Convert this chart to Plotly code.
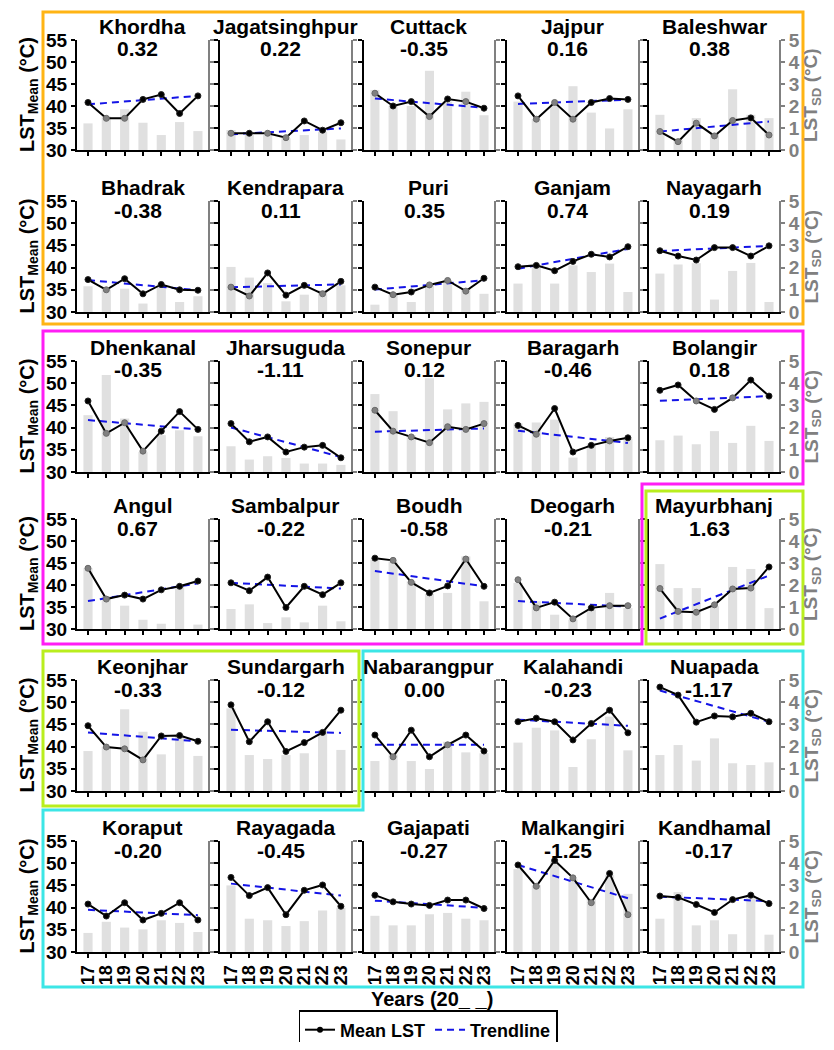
import numpy as np
import plotly.graph_objects as go

# ---------------- data ----------------
years = [17, 18, 19, 20, 21, 22, 23]
year_labels = ["17", "18", "19", "20", "21", "22", "23"]

districts = [
    "Khordha", "Jagatsinghpur", "Cuttack", "Jajpur", "Baleshwar",
    "Bhadrak", "Kendrapara", "Puri", "Ganjam", "Nayagarh",
    "Dhenkanal", "Jharsuguda", "Sonepur", "Baragarh", "Bolangir",
    "Angul", "Sambalpur", "Boudh", "Deogarh", "Mayurbhanj",
    "Keonjhar", "Sundargarh", "Nabarangpur", "Kalahandi", "Nuapada",
    "Koraput", "Rayagada", "Gajapati", "Malkangiri", "Kandhamal",
]

slopes = [
    "0.32", "0.22", "-0.35", "0.16", "0.38",
    "-0.38", "0.11", "0.35", "0.74", "0.19",
    "-0.35", "-1.11", "0.12", "-0.46", "0.18",
    "0.67", "-0.22", "-0.58", "-0.21", "1.63",
    "-0.33", "-0.12", "0.00", "-0.23", "-1.17",
    "-0.20", "-0.45", "-0.27", "-1.25", "-0.17",
]

mean_lst = [
    [40.8, 37.2, 37.2, 41.5, 42.6, 38.3, 42.3],
    [33.8, 33.8, 33.8, 32.8, 36.6, 34.5, 36.2],
    [42.9, 40.0, 41.0, 37.6, 41.6, 41.0, 39.5],
    [42.3, 37.0, 40.8, 37.0, 40.8, 41.7, 41.5],
    [34.2, 31.9, 36.1, 33.2, 36.7, 37.3, 33.4],
    [37.3, 35.0, 37.5, 34.1, 36.2, 35.0, 34.9],
    [35.6, 33.6, 38.8, 33.8, 36.0, 34.1, 36.9],
    [35.6, 33.9, 34.5, 36.1, 37.1, 34.7, 37.6],
    [40.2, 40.5, 39.3, 41.4, 43.0, 42.4, 44.7],
    [43.8, 42.6, 41.7, 44.5, 44.5, 42.6, 44.9],
    [46.0, 38.7, 41.1, 34.7, 39.2, 43.6, 39.6],
    [40.9, 36.8, 37.9, 34.5, 35.6, 36.0, 33.2],
    [43.9, 39.2, 37.9, 36.6, 40.2, 39.6, 40.9],
    [40.5, 38.5, 44.3, 34.5, 36.0, 37.0, 37.7],
    [48.4, 49.6, 46.0, 44.1, 46.7, 50.7, 47.1],
    [43.8, 36.8, 37.7, 36.8, 38.9, 39.7, 40.9],
    [40.5, 38.7, 41.8, 34.9, 39.7, 37.8, 40.5],
    [46.1, 45.6, 40.6, 38.2, 39.8, 45.9, 39.7],
    [41.2, 34.8, 36.1, 32.3, 34.8, 35.3, 35.3],
    [39.2, 34.0, 33.8, 35.5, 39.1, 39.3, 44.1],
    [44.7, 39.9, 39.5, 37.0, 42.4, 42.5, 41.2],
    [49.4, 41.1, 45.6, 38.9, 40.9, 43.2, 48.2],
    [42.6, 37.7, 43.7, 37.7, 40.4, 42.6, 39.0],
    [45.6, 46.4, 45.6, 41.5, 45.2, 48.2, 43.1],
    [53.4, 51.6, 45.5, 46.9, 46.7, 47.5, 45.6],
    [40.8, 38.1, 41.1, 37.2, 38.7, 41.1, 37.2],
    [46.8, 42.7, 44.5, 38.4, 43.9, 45.1, 40.3],
    [42.8, 41.3, 40.8, 40.5, 41.7, 41.7, 39.8],
    [49.6, 44.8, 50.6, 46.7, 41.1, 47.7, 38.4],
    [42.6, 42.3, 40.7, 38.9, 41.8, 42.8, 40.9],
]

sd_lst = [
    [1.21, 1.52, 1.85, 1.24, 0.68, 1.27, 0.86],
    [0.91, 0.68, 0.68, 0.53, 0.68, 0.83, 0.48],
    [2.73, 2.00, 2.00, 3.60, 2.20, 2.65, 1.58],
    [2.20, 1.40, 2.10, 2.90, 1.70, 0.98, 1.85],
    [1.60, 0.45, 1.45, 0.76, 2.76, 1.60, 1.45],
    [1.16, 1.01, 1.05, 0.38, 1.13, 0.45, 0.71],
    [2.03, 1.55, 1.30, 0.48, 0.78, 0.98, 1.20],
    [0.33, 0.79, 0.45, 1.20, 1.44, 1.06, 0.82],
    [1.28, 2.03, 1.28, 2.10, 1.80, 2.18, 0.90],
    [1.73, 2.14, 2.20, 0.56, 1.85, 2.21, 0.45],
    [2.56, 4.37, 2.41, 0.90, 1.66, 1.88, 1.61],
    [1.16, 0.56, 0.71, 0.63, 0.38, 0.38, 0.32],
    [3.51, 2.74, 1.66, 4.22, 2.82, 3.09, 3.16],
    [2.20, 2.23, 2.36, 0.65, 1.28, 1.58, 1.50],
    [1.43, 1.64, 1.25, 1.84, 1.31, 2.08, 1.40],
    [2.76, 1.50, 1.06, 0.42, 0.24, 1.94, 0.20],
    [0.91, 1.12, 0.27, 0.53, 0.30, 1.06, 0.35],
    [3.15, 3.07, 2.17, 1.60, 1.64, 3.30, 1.26],
    [2.10, 1.26, 0.65, 0.42, 0.88, 1.64, 0.95],
    [2.95, 1.86, 1.86, 1.03, 2.82, 2.73, 0.95],
    [1.80, 2.00, 3.68, 2.67, 1.65, 2.52, 1.58],
    [3.72, 1.62, 1.44, 1.62, 1.70, 2.75, 1.85],
    [1.35, 1.65, 1.35, 0.99, 2.22, 1.74, 1.70],
    [2.18, 2.85, 2.73, 1.08, 2.33, 3.35, 1.83],
    [1.62, 2.07, 1.37, 2.37, 1.25, 1.17, 1.29],
    [0.86, 1.36, 1.10, 1.02, 1.43, 1.31, 0.90],
    [3.00, 1.50, 1.43, 1.17, 1.39, 1.87, 2.00],
    [1.63, 1.20, 1.20, 1.70, 1.76, 1.50, 1.43],
    [3.73, 3.01, 4.07, 3.30, 2.40, 3.46, 2.62],
    [1.50, 2.70, 1.20, 1.43, 0.80, 2.56, 0.78],
]

# point category per year (k = dark point, g = grey point)
point_class = [
    "kggkkkk", "gkggkkk", "gkkgkgk", "kgggkkk", "gggggkg",
    "kgkkkkk", "ggkkkgk", "kgkgggk", "kkkkkkk", "kkkkkkk",
    "kgggkkk", "kkkkkkk", "ggggggg", "kgkkkgk", "kkgkgkk",
    "ggkkkkk", "kkkkkkk", "kggkkgk", "ggkgkgg", "ggggggk",
    "kgggkkk", "kkkkkkk", "kgkkgkk", "kkkkkkk", "kkkkkkk",
    "kkkkkkk", "kkkkkkk", "kkkkkkk", "kgkggkg", "kkkkkkk",
]

# ---------------- layout helpers ----------------
# The page body has an 8px margin, so the figure is sized to fit the
# 834x1050 window exactly and every position is given in window pixels.
PAGE_W, PAGE_H = 834, 1050
BODY = 8
W, H = PAGE_W - 2 * BODY, PAGE_H - 2 * BODY
FONT = "Liberation Sans, Arial, Helvetica, sans-serif"
BAR = "#e0e0e0"
GREY = "#808080"
TONE = {"k": "#000000", "g": "#808080"}
TONE_EDGE = {"k": "#222222", "g": "#6a6a6a"}

col_px = [(77, 208), (220, 351), (364, 494), (507, 638), (649, 779)]
row_px = [(40, 150), (201, 312), (361, 472), (519, 629), (680, 791), (841, 952)]


def fx(p):
    return (p - BODY) / W


def fy(p):
    return 1 - (p - BODY) / H


fig = go.Figure()
layout_axes = {}
annotations = []

for k, name in enumerate(districts):
    r, c = divmod(k, 5)
    n = k + 1
    xa = "x" if n == 1 else f"x{n}"
    yb = "y" if n == 1 else f"y{n}"
    yo = f"y{30 + n}"
    x0, x1 = col_px[c]
    y0, y1 = row_px[r]

    # SD bars (base axis, right side)
    fig.add_trace(go.Bar(
        x=years, y=sd_lst[k], xaxis=xa, yaxis=yb, width=0.5,
        marker=dict(color=BAR, line=dict(width=0)),
        showlegend=False, hoverinfo="skip",
    ))

    # Trend line: label slope with median intercept (Sen-style)
    s = float(slopes[k])
    yarr = np.array(mean_lst[k], dtype=float)
    xarr = np.array(years, dtype=float)
    b0 = float(np.median(yarr - s * (xarr - xarr[0])))
    tx = [years[0], years[-1]]
    ty = [b0, b0 + s * (years[-1] - years[0])]
    fig.add_trace(go.Scatter(
        x=tx, y=ty, xaxis=xa, yaxis=yo, mode="lines",
        line=dict(color="#1414e6", width=2, dash="7px,5px"),
        showlegend=False, hoverinfo="skip",
    ))

    # Mean LST line
    pc = point_class[k]
    fig.add_trace(go.Scatter(
        x=years, y=mean_lst[k], xaxis=xa, yaxis=yo, mode="lines+markers",
        line=dict(color="black", width=2),
        marker=dict(size=6, color=[TONE[t] for t in pc],
                    line=dict(width=1, color=[TONE_EDGE[t] for t in pc])),
        showlegend=False,
    ))

    xkey = "xaxis" if n == 1 else f"xaxis{n}"
    ykey = "yaxis" if n == 1 else f"yaxis{n}"
    layout_axes[xkey] = dict(
        domain=[fx(x0), fx(x1)], anchor=yb, range=[16.4, 23.55],
        tickvals=years, ticktext=year_labels, showticklabels=(r == 5),
        tickangle=-90, ticks="outside", ticklen=4, tickwidth=1.5,
        tickcolor="black", showline=True, linecolor="black", linewidth=2,
        showgrid=False, zeroline=False, fixedrange=True,
        tickfont=dict(family=FONT, size=18, color="black", weight="bold"),
    )
    layout_axes[ykey] = dict(
        domain=[fy(y1), fy(y0)], anchor=xa, side="right", range=[0, 5],
        tickvals=[0, 1, 2, 3, 4, 5], showticklabels=(c == 4),
        ticks="outside", ticklen=4, tickwidth=1.5, tickcolor=GREY,
        showline=True, linecolor=GREY, linewidth=2, showgrid=False,
        zeroline=False, fixedrange=True,
        tickfont=dict(family=FONT, size=19, color=GREY, weight="bold"),
    )
    layout_axes[f"yaxis{30 + n}"] = dict(
        overlaying=yb, anchor=xa, side="left", range=[30, 55],
        tickvals=[30, 35, 40, 45, 50, 55], showticklabels=(c == 0),
        ticks="outside", ticklen=4, tickwidth=1.5, tickcolor="black",
        showline=True, linecolor="black", linewidth=2, showgrid=False,
        zeroline=False, fixedrange=True,
        tickfont=dict(family=FONT, size=19, color="black", weight="bold"),
    )

    cx = (x0 + x1) / 2
    annotations.append(dict(
        x=fx(cx), y=fy(y0 - 14), xref="paper", yref="paper",
        text=f"<b>{name}</b>", showarrow=False, xanchor="center",
        yanchor="middle", font=dict(family=FONT, size=21, color="black"),
    ))
    annotations.append(dict(
        x=fx(cx - 5), y=fy(y0 + 9), xref="paper", yref="paper",
        text=f"<b>{slopes[k]}</b>", showarrow=False, xanchor="center",
        yanchor="middle", font=dict(family=FONT, size=21, color="black"),
    ))

# axis titles per row
for (y0, y1) in row_px:
    cy = (y0 + y1) / 2
    annotations.append(dict(
        x=fx(28), y=fy(cy), xref="paper", yref="paper", textangle=-90,
        text="<b>LST<sub>Mean</sub> (°C)</b>", showarrow=False,
        xanchor="center", yanchor="middle",
        font=dict(family=FONT, size=20, color="black"),
    ))
    annotations.append(dict(
        x=fx(812), y=fy(cy), xref="paper", yref="paper", textangle=-90,
        text="<b>LST<sub>SD</sub> (°C)</b>", showarrow=False,
        xanchor="center", yanchor="middle",
        font=dict(family=FONT, size=19, color=GREY),
    ))

annotations.append(dict(
    x=fx(432), y=fy(999), xref="paper", yref="paper",
    text="<b>Years (20_ _)</b>", showarrow=False, xanchor="center",
    yanchor="middle", font=dict(family=FONT, size=20, color="black"),
))

# legend entries
fig.add_trace(go.Scatter(
    x=[None], y=[None], mode="lines+markers", name="Mean LST",
    line=dict(color="black", width=2), marker=dict(size=6, color="black"),
))
fig.add_trace(go.Scatter(
    x=[None], y=[None], mode="lines", name="Trendline",
    line=dict(color="#1414e6", width=2, dash="7px,5px"),
))


# grouping frames
def pth(pts):
    return "M " + " L ".join(f"{fx(a):.5f},{fy(b):.5f}" for a, b in pts) + " Z"


frames = [
    ("#FFB414", [(43, 12), (803, 12), (803, 324), (43, 324)]),
    ("#FF1EF5", [(43, 331), (803, 331), (803, 484), (642, 484), (642, 644), (43, 644)]),
    ("#B9EE1E", [(646, 491), (803, 491), (803, 644), (646, 644)]),
    ("#B9EE1E", [(43, 651), (359, 651), (359, 806), (43, 806)]),
    ("#3CE6E6", [(363, 651), (803, 651), (803, 987), (43, 987), (43, 810), (363, 810)]),
]
shapes = [
    dict(type="path", xref="paper", yref="paper", path=pth(p),
         line=dict(color=col, width=3), fillcolor="rgba(0,0,0,0)", layer="above")
    for col, p in frames
]

fig.update_layout(
    width=W, height=H, margin=dict(l=0, r=0, t=0, b=0, autoexpand=False),
    paper_bgcolor="white", plot_bgcolor="white",
    font=dict(family=FONT, color="black"),
    barmode="overlay", bargap=0.5,
    annotations=annotations, shapes=shapes,
    legend=dict(
        orientation="h", x=fx(428), xanchor="center", y=fy(1010), yanchor="top",
        bordercolor="black", borderwidth=1.5, bgcolor="white",
        font=dict(family=FONT, size=18, color="black", weight="bold"),
        itemwidth=30, tracegroupgap=0,
    ),
    **layout_axes,
)

fig.write_html("out.html")
